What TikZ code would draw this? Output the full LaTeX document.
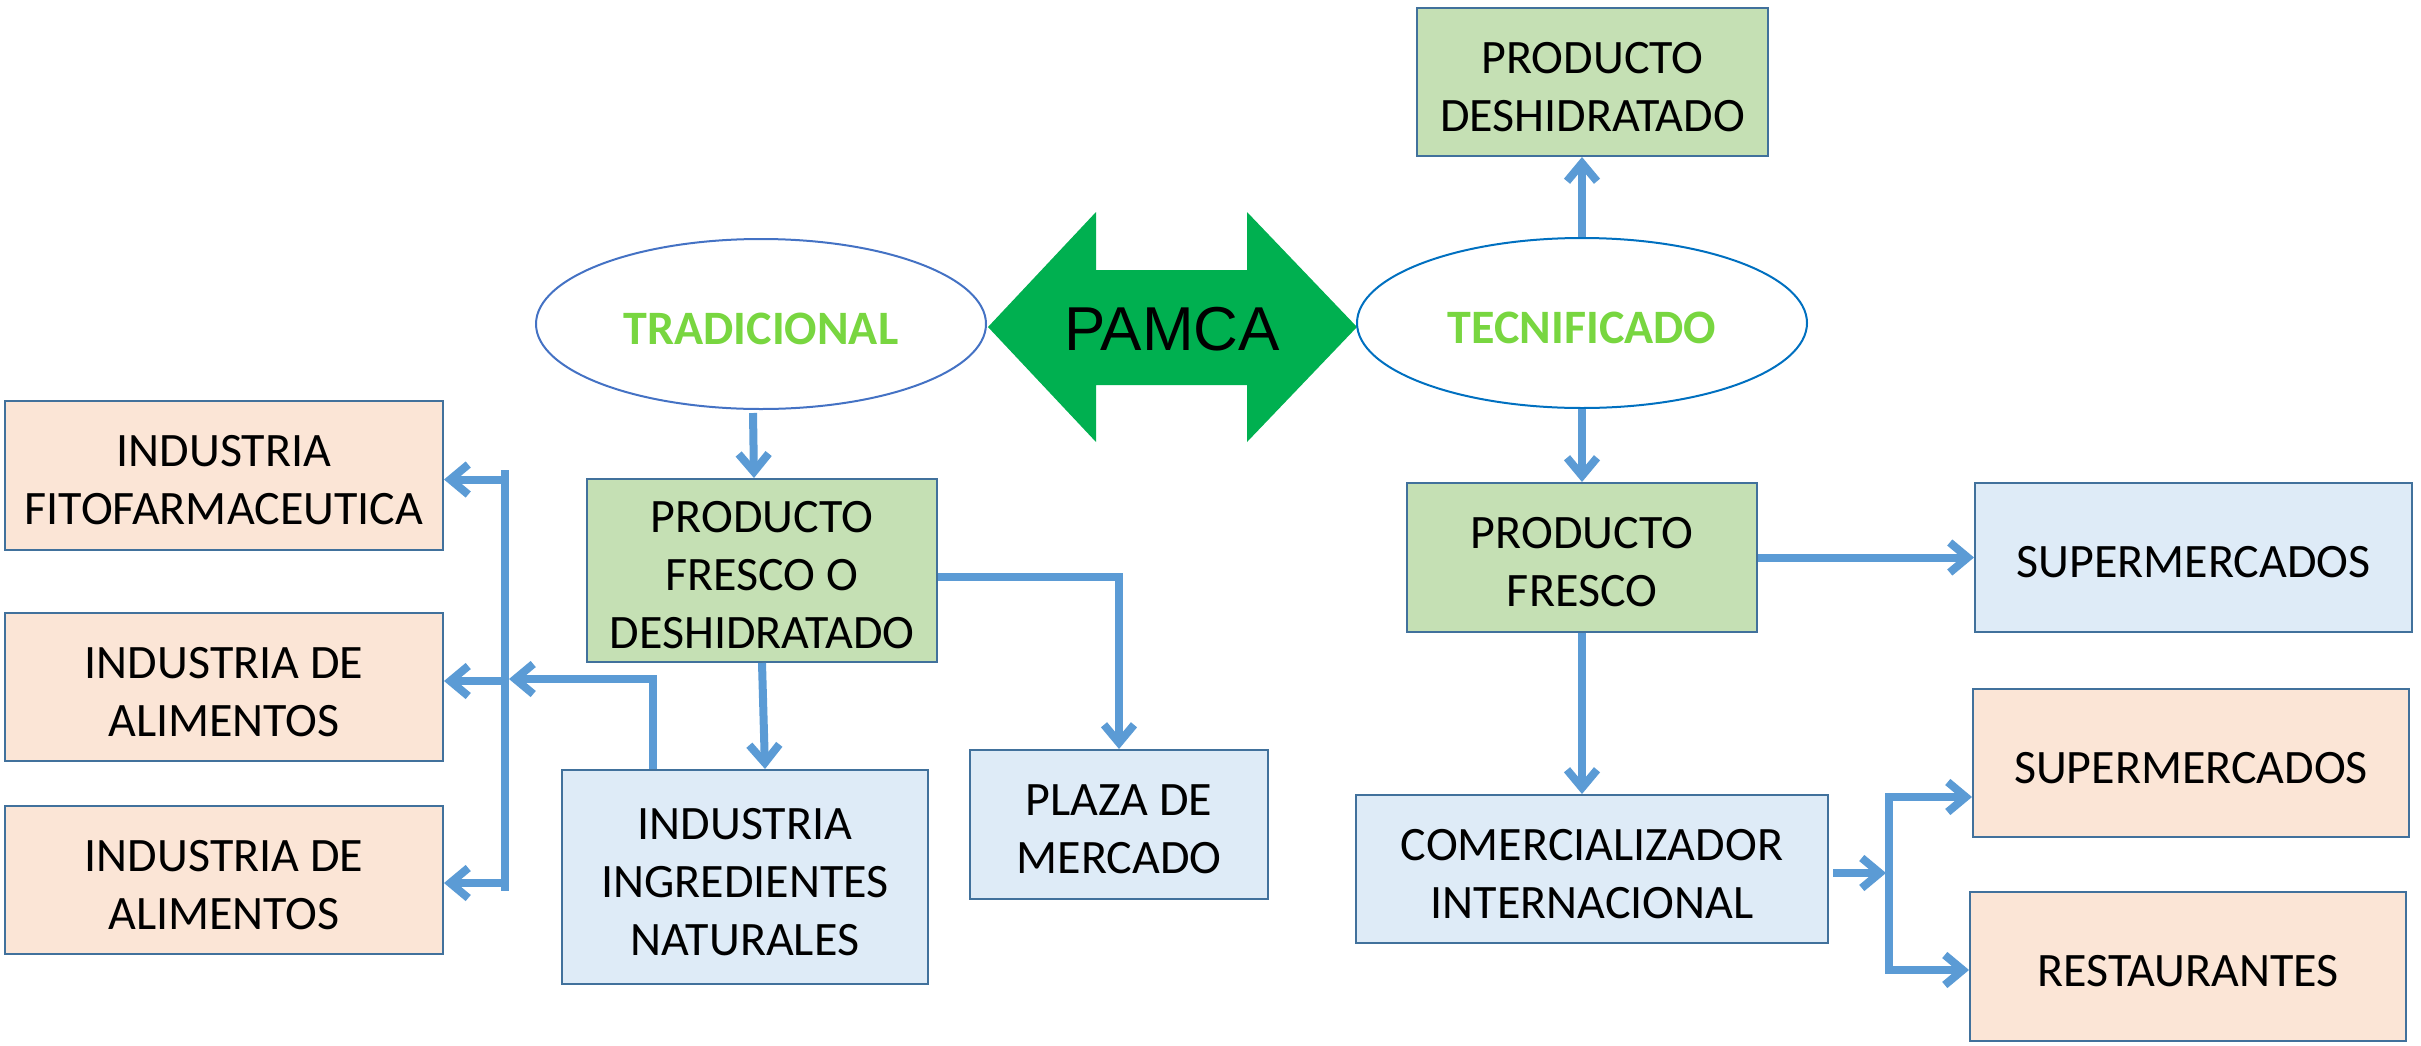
\documentclass[tikz,border=0pt]{standalone}
\usepackage{fontspec}
\setmainfont{Carlito}
\newfontfamily\arialf{Liberation Sans}
\usetikzlibrary{arrows.meta,shapes.geometric,calc}
\definecolor{linec}{HTML}{5B9BD5}
\definecolor{boxb}{HTML}{41719C}
\definecolor{gfill}{HTML}{C5E0B4}
\definecolor{bfill}{HTML}{DEEBF7}
\definecolor{pfill}{HTML}{FBE5D6}
\definecolor{ellA}{HTML}{4472C4}
\definecolor{ellB}{HTML}{0070C0}
\definecolor{gtext}{HTML}{78D640}
\definecolor{pamcag}{HTML}{00B050}
\begin{document}
\begin{tikzpicture}[x=0.5pt,y=-0.5pt,
  lbl/.style={align=center,inner sep=0pt,yshift=-2.5pt,font=\fontsize{24}{29}\selectfont},
  txt/.style={label={[lbl]center:{#1}}},
  box/.style={draw=boxb,line width=1pt,rectangle,inner sep=0pt},
  gbox/.style={box,fill=gfill},
  bbox/.style={box,fill=bfill},
  pbox/.style={box,fill=pfill},
  ell/.style={ellipse,fill=white,line width=1pt,inner sep=0pt,minimum width=225pt,minimum height=85pt},
  elbl/.style={label={[lbl,font=\fontsize{24}{29}\selectfont\bfseries,text=gtext]center:{#1}}},
  conn/.style={draw=linec,line width=4pt},
  tip/.tip={Straight Barb[length=9pt,width=15pt]},
  arr/.style={conn,-tip}]
\useasboundingbox (0,0) rectangle (2421,1045);
% PAMCA double arrow
\fill[pamcag] (988,327) -- (1096,212) -- (1096,270) -- (1247,270) -- (1247,212) -- (1357,327)
  -- (1247,442) -- (1247,385) -- (1096,385) -- (1096,442) -- cycle;
\node (pamca) at (1172,329) {\arialf\fontsize{31}{36}\selectfont PAMCA};
% ellipses
\node[ell,draw=ellA,elbl={TRADICIONAL}] (trad) at (761,324) {};
\node[ell,draw=ellB,elbl={TECNIFICADO}] (tecn) at (1582,323) {};
% boxes
\node[gbox,minimum width=175.5pt,minimum height=74pt,txt={PRODUCTO\\DESHIDRATADO}] (deshi) at (1592.5,82) {};
\node[gbox,minimum width=175pt,minimum height=91.5pt,txt={PRODUCTO\\FRESCO O\\DESHIDRATADO}] (fresco1) at (762,570.5) {};
\node[gbox,minimum width=175pt,minimum height=74.5pt,txt={PRODUCTO\\FRESCO}] (fresco2) at (1582,557.5) {};
\node[bbox,minimum width=218.5pt,minimum height=74.5pt,txt={SUPERMERCADOS}] (super1) at (2193.5,557.5) {};
\node[pbox,minimum width=218pt,minimum height=74pt,txt={SUPERMERCADOS}] (super2) at (2191,763) {};
\node[pbox,minimum width=218pt,minimum height=74.5pt,txt={RESTAURANTES}] (rest) at (2188,966.5) {};
\node[bbox,minimum width=236pt,minimum height=74pt,txt={COMERCIALIZADOR\\INTERNACIONAL}] (comer) at (1592,869) {};
\node[bbox,minimum width=149pt,minimum height=74.5pt,txt={PLAZA DE\\MERCADO}] (plaza) at (1119,824.5) {};
\node[bbox,minimum width=183pt,minimum height=107pt,txt={INDUSTRIA\\INGREDIENTES\\NATURALES}] (ingr) at (745,877) {};
\node[pbox,minimum width=219pt,minimum height=74.5pt,txt={INDUSTRIA\\FITOFARMACEUTICA}] (fito) at (224,475.5) {};
\node[pbox,minimum width=219pt,minimum height=74pt,txt={INDUSTRIA DE\\ALIMENTOS}] (alim1) at (224,687) {};
\node[pbox,minimum width=219pt,minimum height=74pt,txt={INDUSTRIA DE\\ALIMENTOS}] (alim2) at (224,880) {};
% left side connectors
\coordinate (lTop) at (505,470);
\coordinate (lBot) at (505,891);
\coordinate (jL) at (509,679);
\draw[arr] ([xshift=-4pt,yshift=-1.5pt]trad.south) -- ([xshift=-4pt]fresco1.north);
\draw[arr] (fresco1.south) -- ([xshift=10pt]ingr.north);
\draw[arr] ([yshift=-3pt]fresco1.east) -| (plaza.north);
\draw[arr] ([xshift=-46pt]ingr.north) |- (jL);
\draw[conn] (lTop) -- (lBot);
\draw[arr] ([yshift=-2pt]fito.east -| lTop) -- ([yshift=-2pt]fito.east);
\draw[arr] ([yshift=3pt]alim1.east -| lTop) -- ([yshift=3pt]alim1.east);
\draw[arr] ([yshift=-1.5pt]alim2.east -| lTop) -- ([yshift=-1.5pt]alim2.east);
% right side connectors
\draw[arr] (tecn.south) -- (fresco2.north);
\draw[arr] (tecn.north) -- (tecn.north |- deshi.south);
\draw[arr] (fresco2.east) -- (super1.west);
\draw[arr] (fresco2.south) -- (fresco2.south |- comer.north);
\coordinate (rTop) at (1889,797);
\coordinate (rBot) at (1889,970);
\draw[arr] ([xshift=2pt,yshift=-2pt]comer.east) -- ([xshift=-1.5pt,yshift=-2pt]comer.east -| rTop);
\draw[conn,tip-tip,line join=miter]
  (rTop -| super2.west) -- (rTop) -- (rBot) -- (rBot -| rest.west);
\end{tikzpicture}
\end{document}
